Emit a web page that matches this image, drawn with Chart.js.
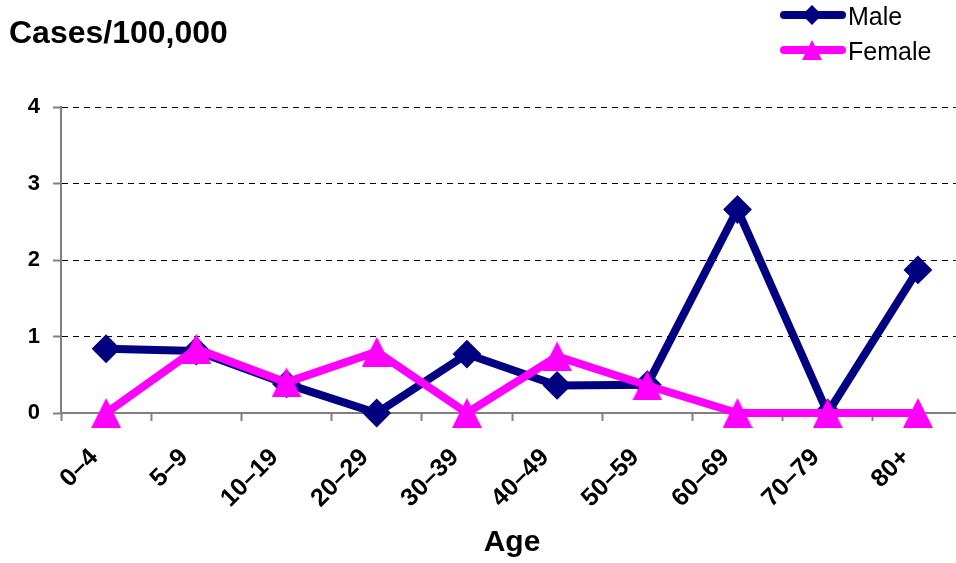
<!DOCTYPE html>
<html>
<head>
<meta charset="utf-8">
<script src="https://cdn.jsdelivr.net/npm/chart.js@4.4.1/dist/chart.umd.min.js"></script>
<style>
  html, body { margin: 0; padding: 0; background: #fff; overflow: hidden; }
  #wrap { position: relative; width: 966px; height: 563px; }
</style>
</head>
<body>
<div id="wrap"><canvas id="chart" width="966" height="563"></canvas></div>
<script>
// данные графика
const ageGroups = ['0–4', '5–9', '10–19', '20–29', '30–39', '40–49', '50–59', '60–69', '70–79', '80+'];
const maleRates = [0.84, 0.81, 0.38, 0, 0.77, 0.36, 0.37, 2.66, 0, 1.87];
const femaleRates = [0, 0.84, 0.40, 0.80, 0, 0.74, 0.36, 0, 0, 0];
const yTicks = [0, 1, 2, 3, 4];

const NAVY = '#000080';
const PINK = '#FF00FF';
const FONT = 'Arial, "Liberation Sans", sans-serif';

// треугольник как в Excel: центр по середине рамки, а не по центроиду
function makeTriangle(w, h, color) {
  const c = document.createElement('canvas');
  c.width = w;
  c.height = h;
  const g = c.getContext('2d');
  g.fillStyle = color;
  g.beginPath();
  g.moveTo(w / 2, 0);
  g.lineTo(w, h);
  g.lineTo(0, h);
  g.closePath();
  g.fill();
  return c;
}

function drawDiamond(ctx, x, y, r, color) {
  ctx.fillStyle = color;
  ctx.beginPath();
  ctx.moveTo(x, y - r);
  ctx.lineTo(x + r, y);
  ctx.lineTo(x, y + r);
  ctx.lineTo(x - r, y);
  ctx.closePath();
  ctx.fill();
}

const femaleMarker = makeTriangle(30, 30, PINK);

// подпись оси Y сверху и легенда справа
const overlay = {
  id: 'overlay',
  afterDraw(chart) {
    const ctx = chart.ctx;
    ctx.save();
    ctx.fillStyle = '#000';
    ctx.font = 'bold 32px ' + FONT;
    ctx.textBaseline = 'alphabetic';
    ctx.textAlign = 'left';
    ctx.fillText('Cases/100,000', 9, 43);

    const items = [
      { label: 'Male', color: NAVY, y: 15 },
      { label: 'Female', color: PINK, y: 50 }
    ];
    items.forEach((it, i) => {
      ctx.strokeStyle = it.color;
      ctx.lineWidth = 8;
      ctx.lineCap = 'round';
      ctx.beginPath();
      ctx.moveTo(784, it.y);
      ctx.lineTo(842, it.y);
      ctx.stroke();
      if (i === 0) {
        drawDiamond(ctx, 812, it.y, 10, it.color);
      } else {
        ctx.fillStyle = it.color;
        ctx.beginPath();
        ctx.moveTo(812, it.y - 10);
        ctx.lineTo(822, it.y + 10);
        ctx.lineTo(802, it.y + 10);
        ctx.closePath();
        ctx.fill();
      }
      ctx.fillStyle = '#000';
      ctx.font = '25px ' + FONT;
      ctx.textBaseline = 'middle';
      ctx.fillText(it.label, 848, it.y + 3);
    });
    ctx.restore();
  }
};

new Chart(document.getElementById('chart'), {
  type: 'line',
  data: {
    labels: ageGroups,
    datasets: [
      {
        label: 'Male',
        data: maleRates,
        borderColor: NAVY,
        backgroundColor: NAVY,
        borderWidth: 8,
        pointStyle: 'rectRot',
        pointRadius: 13,
        pointBorderWidth: 2,
        tension: 0,
        clip: false,
        order: 1
      },
      {
        label: 'Female',
        data: femaleRates,
        borderColor: PINK,
        backgroundColor: PINK,
        borderWidth: 8,
        pointStyle: femaleMarker,
        pointRadius: 15,
        tension: 0,
        clip: false,
        order: 0
      }
    ]
  },
  options: {
    responsive: false,
    animation: false,
    layout: { autoPadding: false, padding: { top: 107, right: 3, bottom: 0, left: 0 } },
    plugins: { legend: { display: false }, tooltip: { enabled: false } },
    scales: {
      x: {
        offset: true,
        grid: { offset: true, drawOnChartArea: false, tickLength: 8, tickColor: '#808080', tickWidth: 2 },
        border: { color: '#808080', width: 2 },
        ticks: {
          color: '#000', autoSkip: false, minRotation: 45, maxRotation: 45,
          padding: 22, labelOffset: -12,
          font: { family: FONT, size: 25, weight: 'bold' }
        },
        title: {
          display: true, text: 'Age', color: '#000',
          font: { family: FONT, size: 30, weight: 'bold' },
          padding: { top: 0, bottom: 2 }
        },
        afterFit(scale) {
          scale.height = 150;
          scale.paddingLeft = 0;
          scale.paddingRight = 0;
        }
      },
      y: {
        min: 0, max: 4,
        afterBuildTicks(scale) { scale.ticks = yTicks.map(v => ({ value: v })); },
        grid: {
          color: c => (c.tick && c.tick.value === 0) ? 'rgba(0,0,0,0)' : '#000',
          tickColor: '#808080', tickWidth: 2, tickLength: 8, tickBorderDash: []
        },
        border: { color: '#808080', width: 2, dash: [6, 5] },
        ticks: {
          color: '#000', padding: 13,
          font: { family: FONT, size: 22, weight: 'bold' }
        },
        afterFit(scale) { scale.width = 61; }
      }
    }
  },
  plugins: [overlay]
});
</script>
</body>
</html>
